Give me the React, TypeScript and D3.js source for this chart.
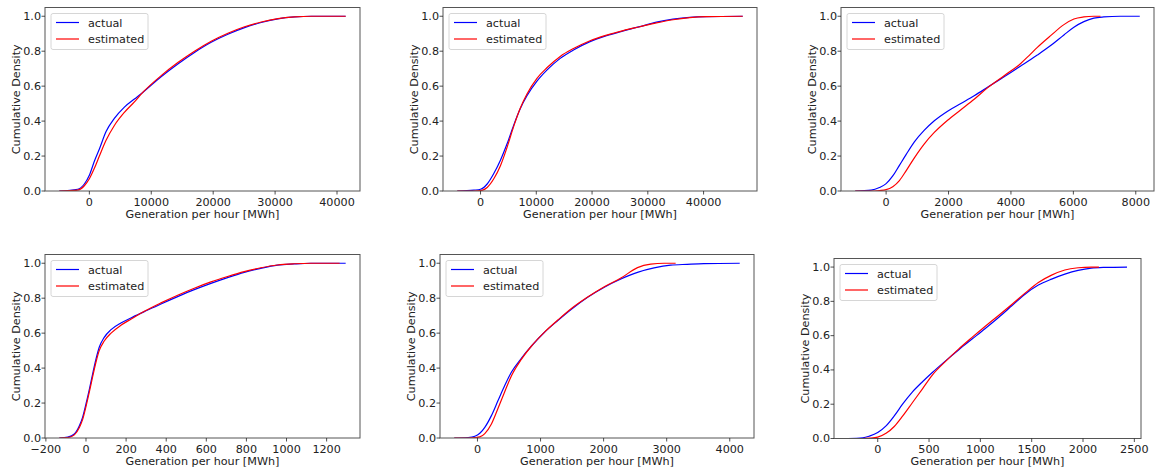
import React from "react";
import * as d3 from "d3";

type Pt = [number, number];

// Cumulative density curves, [generation MWh, cumulative share]
const p1Actual: Pt[] = [[-4850, 0], [-1890, 0.01], [-810, 0.04], [0, 0.09], [810, 0.17], [1620, 0.24], [2700, 0.34], [4040, 0.415], [5660, 0.48], [7280, 0.526], [8625, 0.564], [11590, 0.654], [14290, 0.727], [16980, 0.793], [19680, 0.851], [22370, 0.897], [25070, 0.935], [27760, 0.964], [30460, 0.985], [33150, 0.996], [35850, 1.0], [41400, 1.0]];
const p1Estimated: Pt[] = [[-4850, 0], [-1890, 0.005], [-810, 0.03], [0, 0.07], [810, 0.13], [1620, 0.2], [2700, 0.29], [4040, 0.375], [5660, 0.45], [7280, 0.51], [8625, 0.564], [11590, 0.66], [14290, 0.735], [16980, 0.8], [19680, 0.857], [22370, 0.903], [25070, 0.94], [27760, 0.967], [30460, 0.986], [33150, 0.996], [35850, 1.0], [41400, 1.0]];

const p2Actual: Pt[] = [[-4170, 0], [-1190, 0.005], [0, 0.01], [1190, 0.04], [2380, 0.1], [3570, 0.176], [4760, 0.27], [5950, 0.377], [7140, 0.472], [8330, 0.545], [10120, 0.629], [11900, 0.692], [14290, 0.759], [16670, 0.807], [19640, 0.855], [22620, 0.889], [25600, 0.916], [28570, 0.941], [31550, 0.966], [34520, 0.983], [37500, 0.994], [40480, 0.998], [47020, 1.0]];
const p2Estimated: Pt[] = [[-4170, 0], [-1190, 0], [0, 0.002], [1190, 0.02], [2380, 0.07], [3570, 0.145], [4760, 0.25], [5950, 0.37], [7140, 0.475], [8330, 0.555], [10120, 0.645], [11900, 0.705], [14290, 0.77], [16670, 0.815], [19640, 0.86], [22620, 0.892], [25600, 0.918], [28570, 0.94], [31550, 0.962], [34520, 0.98], [37500, 0.992], [40480, 0.998], [47020, 1.0]];

const p3Actual: Pt[] = [[-990, 0], [-480, 0.005], [-213, 0.02], [0, 0.042], [213, 0.086], [426, 0.147], [639, 0.208], [905, 0.281], [1225, 0.348], [1544, 0.402], [1970, 0.457], [2396, 0.501], [2822, 0.545], [3248, 0.593], [3781, 0.654], [4313, 0.715], [4846, 0.778], [5272, 0.832], [5698, 0.893], [6017, 0.937], [6337, 0.969], [6656, 0.989], [6976, 0.996], [7500, 1.0], [8128, 1.0]];
const p3Estimated: Pt[] = [[-990, 0], [-480, 0], [-213, 0.003], [0, 0.008], [213, 0.025], [426, 0.06], [639, 0.115], [905, 0.19], [1225, 0.27], [1544, 0.335], [1970, 0.405], [2396, 0.465], [2822, 0.525], [3248, 0.59], [3781, 0.66], [4313, 0.73], [4580, 0.775], [4846, 0.822], [5272, 0.889], [5698, 0.952], [6017, 0.984], [6337, 0.996], [6656, 1.0], [6870, 1.0]];

const p4Actual: Pt[] = [[-133, 0], [-91, 0.005], [-58, 0.023], [-33, 0.07], [-17, 0.118], [0, 0.195], [17, 0.28], [33, 0.366], [50, 0.452], [66, 0.519], [91, 0.576], [125, 0.62], [174, 0.658], [224, 0.687], [291, 0.723], [374, 0.767], [457, 0.809], [540, 0.849], [623, 0.885], [706, 0.918], [789, 0.948], [872, 0.971], [955, 0.989], [1038, 0.996], [1121, 1.0], [1295, 1.0]];
const p4Estimated: Pt[] = [[-133, 0], [-91, 0.003], [-58, 0.018], [-33, 0.06], [-17, 0.105], [0, 0.18], [17, 0.265], [33, 0.35], [50, 0.435], [66, 0.5], [91, 0.555], [125, 0.6], [174, 0.645], [224, 0.68], [291, 0.725], [374, 0.773], [457, 0.817], [540, 0.857], [623, 0.893], [706, 0.924], [789, 0.952], [872, 0.974], [955, 0.99], [1038, 0.997], [1121, 1.0], [1265, 1.0]];

const p5Actual: Pt[] = [[-368, 0], [-147, 0.003], [-42, 0.01], [37, 0.027], [116, 0.061], [221, 0.128], [326, 0.214], [432, 0.3], [537, 0.376], [695, 0.456], [853, 0.525], [1063, 0.605], [1274, 0.672], [1484, 0.735], [1747, 0.805], [2011, 0.863], [2274, 0.91], [2537, 0.948], [2800, 0.973], [3063, 0.989], [3326, 0.994], [3589, 0.998], [4158, 1.0]];
const p5Estimated: Pt[] = [[-368, 0], [-147, 0], [-42, 0.002], [37, 0.006], [116, 0.025], [221, 0.08], [326, 0.17], [432, 0.265], [537, 0.355], [695, 0.45], [853, 0.525], [1063, 0.606], [1274, 0.675], [1484, 0.74], [1747, 0.807], [2011, 0.866], [2274, 0.915], [2537, 0.975], [2747, 0.995], [2958, 1.0], [3142, 1.0]];

const p6Actual: Pt[] = [[-290, 0], [-145, 0.004], [-81, 0.014], [0, 0.035], [81, 0.074], [161, 0.132], [242, 0.2], [339, 0.272], [436, 0.331], [532, 0.385], [661, 0.453], [790, 0.518], [919, 0.58], [1048, 0.642], [1177, 0.706], [1306, 0.774], [1435, 0.842], [1565, 0.895], [1694, 0.93], [1823, 0.959], [1952, 0.981], [2081, 0.994], [2210, 0.998], [2429, 1.0]];
const p6Estimated: Pt[] = [[-290, 0], [-145, 0], [-81, 0.002], [0, 0.008], [81, 0.03], [161, 0.07], [242, 0.13], [339, 0.21], [436, 0.29], [532, 0.37], [661, 0.45], [790, 0.523], [919, 0.59], [1048, 0.655], [1177, 0.718], [1306, 0.782], [1435, 0.848], [1565, 0.91], [1694, 0.953], [1823, 0.983], [1952, 0.996], [2081, 1.0], [2155, 1.0]];

const p1Ticks = [0, 10000, 20000, 30000, 40000];
const p2Ticks = [0, 10000, 20000, 30000, 40000];
const p3Ticks = [0, 2000, 4000, 6000, 8000];
const p4Ticks = [-200, 0, 200, 400, 600, 800, 1000, 1200];
const p5Ticks = [0, 1000, 2000, 3000, 4000];
const p6Ticks = [0, 500, 1000, 1500, 2000, 2500];
const yTicks = [0, 0.2, 0.4, 0.6, 0.8, 1.0];

const seriesNames = ["actual", "estimated"];
const seriesColors = ["#0000ff", "#ff0000"];

const xLabel = "Generation per hour [MWh]";
const yLabel = "Cumulative Density";

interface PanelSpec {
  left: number;
  right: number;
  top: number;
  bottom: number;
  series: Pt[][];
  xTicks: number[];
}

const panels: PanelSpec[] = [
  { left: 45, right: 360, top: 7.5, bottom: 191, series: [p1Actual, p1Estimated], xTicks: p1Ticks },
  { left: 443, right: 757, top: 7.5, bottom: 191, series: [p2Actual, p2Estimated], xTicks: p2Ticks },
  { left: 841, right: 1154, top: 7.5, bottom: 191, series: [p3Actual, p3Estimated], xTicks: p3Ticks },
  { left: 45, right: 360, top: 254.5, bottom: 438, series: [p4Actual, p4Estimated], xTicks: p4Ticks },
  { left: 440, right: 754, top: 254.5, bottom: 438, series: [p5Actual, p5Estimated], xTicks: p5Ticks },
  { left: 834, right: 1141, top: 258.5, bottom: 438.5, series: [p6Actual, p6Estimated], xTicks: p6Ticks },
];

const FONT = "'DejaVu Sans', sans-serif";
const FS = 11.2;
const fmtX = d3.format("d");
const fmtY = d3.format(".1f");

function Panel({ spec }: { spec: PanelSpec }) {
  const all = spec.series.flat();
  const [x0, x1] = d3.extent(all, (d) => d[0]) as [number, number];
  const pad = (x1 - x0) * 0.05;
  const x = d3.scaleLinear().domain([x0 - pad, x1 + pad]).range([spec.left, spec.right]);
  const y = d3.scaleLinear().domain([0, 1.05]).range([spec.bottom, spec.top]);
  const line = d3
    .line<Pt>()
    .x((d) => x(d[0]))
    .y((d) => y(d[1]))
    .curve(d3.curveMonotoneX);

  const w = spec.right - spec.left;
  const h = spec.bottom - spec.top;
  const lgX = spec.left + 6;
  const lgY = spec.top + 6;
  const clipId = `clip-${spec.left}-${Math.round(spec.top)}`;

  return (
    <g>
      <defs>
        <clipPath id={clipId}>
          <rect x={spec.left} y={spec.top} width={w} height={h} />
        </clipPath>
      </defs>
      <g clipPath={`url(#${clipId})`}>
        {spec.series.map((s, i) => (
          <path key={i} d={line(s) ?? ""} fill="none" stroke={seriesColors[i]} strokeWidth={1.2} />
        ))}
      </g>
      <rect x={spec.left} y={spec.top} width={w} height={h} fill="none" stroke="#555" strokeWidth={1} />

      {spec.xTicks.map((t) => (
        <g key={t}>
          <line x1={x(t)} x2={x(t)} y1={spec.bottom} y2={spec.bottom + 3.5} stroke="#222" strokeWidth={0.8} />
          <text x={x(t)} y={spec.bottom + 14.5} textAnchor="middle" fontSize={FS} fontFamily={FONT} fill="#222">
            {fmtX(t)}
          </text>
        </g>
      ))}
      {yTicks.map((t) => (
        <g key={t}>
          <line x1={spec.left - 3.5} x2={spec.left} y1={y(t)} y2={y(t)} stroke="#222" strokeWidth={0.8} />
          <text x={spec.left - 4} y={y(t) + 3.5} textAnchor="end" fontSize={FS} fontFamily={FONT} fill="#222">
            {fmtY(t)}
          </text>
        </g>
      ))}

      <text x={(spec.left + spec.right) / 2} y={spec.bottom + 26.5} textAnchor="middle" fontSize={FS} fontFamily={FONT} fill="#222">
        {xLabel}
      </text>
      <text
        transform={`translate(${spec.left - 29},${(spec.top + spec.bottom) / 2}) rotate(-90)`}
        dy={4}
        textAnchor="middle"
        fontSize={FS}
        fontFamily={FONT}
        fill="#222"
      >
        {yLabel}
      </text>

      <rect x={lgX} y={lgY} width={97} height={36} rx={2} fill="white" fillOpacity={0.8} stroke="#ccc" strokeWidth={0.8} />
      {seriesNames.map((name, i) => (
        <g key={name}>
          <line x1={lgX + 5} x2={lgX + 28} y1={lgY + 9 + i * 16.5} y2={lgY + 9 + i * 16.5} stroke={seriesColors[i]} strokeWidth={1.2} />
          <text x={lgX + 37} y={lgY + 13 + i * 16.5} fontSize={FS} fontFamily={FONT} fill="#222">
            {name}
          </text>
        </g>
      ))}
    </g>
  );
}

export default function App() {
  return (
    <svg width={1155} height={470} style={{ position: "absolute", left: 0, top: 0, background: "white" }}>
      <rect x={0} y={0} width={1155} height={470} fill="white" />
      {panels.map((p, i) => (
        <Panel key={i} spec={p} />
      ))}
    </svg>
  );
}
